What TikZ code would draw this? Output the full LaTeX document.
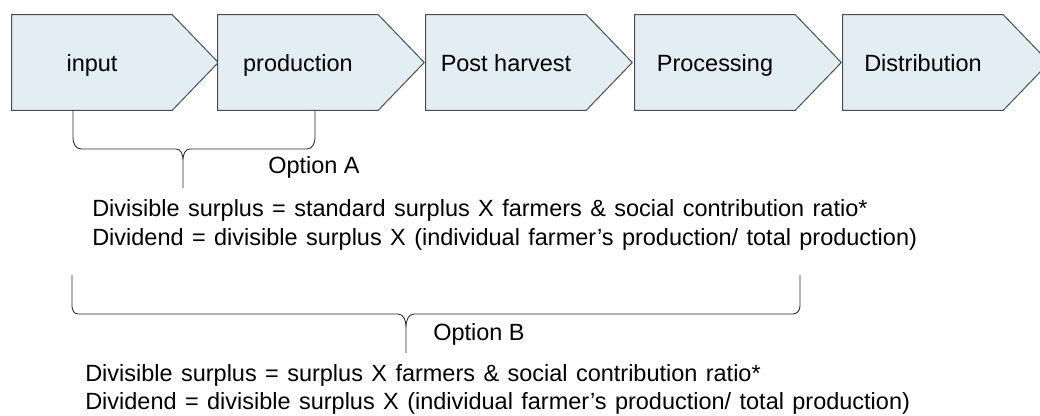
\documentclass[tikz,border=0pt]{standalone}
\usepackage{fontspec}
\setmainfont{Liberation Sans}
\usetikzlibrary{backgrounds}
\definecolor{chevronfill}{RGB}{227,237,244}
\newcommand{\formulaspacing}{\spaceskip=6pt plus 1pt\relax}

\begin{document}
\begin{tikzpicture}[stagenode/.style={rectangle, minimum width=4cm, minimum height=2.375cm, inner sep=0pt, text height=0.46cm, text depth=0cm, font=\fontsize{16.7}{20}\selectfont},
  stageshape/.style={draw=black!70, fill=chevronfill, line width=0.7pt},
  textnode/.style={inner sep=0pt, anchor=base west, font=\fontsize{16.7}{20}\selectfont},
  formulanode/.style={textnode, font=\fontsize{16.7}{20}\selectfont\formulaspacing},
  bracepath/.style={draw=black!85, line width=0.6pt},]
\useasboundingbox (0,0) rectangle (26,-10.4);
% nodes
\node[stagenode] (input) at (2.3,-1.5625) {input};
\node[stagenode] (production) at (7.45,-1.5625) {production};
\node[stagenode] (post_harvest) at (12.65,-1.5625) {Post harvest};
\node[stagenode] (processing) at (17.875,-1.5625) {Processing};
\node[stagenode] (distribution) at (23.075,-1.5625) {Distribution};
\node[textnode] (option_a) at (6.7,-4.333) {Option A};
\node[formulanode] (surplus_a) at (2.3,-5.4175) {Divisible surplus = standard surplus X farmers \& social contribution ratio*};
\node[formulanode] (dividend_a) at (2.3,-6.1375) {Dividend = divisible surplus X (individual farmer’s production/ total production)};
\node[textnode] (option_b) at (10.825,-8.525) {Option B};
\node[formulanode] (surplus_b) at (2.125,-9.5425) {Divisible surplus = surplus X farmers \& social contribution ratio*};
\node[formulanode] (dividend_b) at (2.125,-10.25) {Dividend = divisible surplus X (individual farmer’s production/ total production)};
% chevrons
\begin{scope}[on background layer]
\foreach \stage in {input,production,post_harvest,processing,distribution}
  \draw[stageshape] (\stage.north west) -- (\stage.north east) -- ([xshift=1.15cm]\stage.east) -- (\stage.south east) -- (\stage.south west) -- cycle;
\end{scope}
% braces
\draw[bracepath] ([xshift=-0.475cm]input.south) -- (1.825,-3.45) to[out=-90,in=180] (2.025,-3.725) -- (4.4,-3.725) to[out=0,in=90] (4.575,-4.0) -- (4.575,-4.7)
  (4.575,-4.0) to[out=90,in=180] (4.75,-3.725) -- (7.675,-3.725) to[out=0,in=-90] (7.875,-3.45) -- ([xshift=0.425cm]production.south);
\draw[bracepath] (1.8,-6.875) -- (1.8,-7.65) to[out=-90,in=180] (1.95,-7.85) -- (9.95,-7.85) to[out=0,in=90] (10.15,-8.175) -- (10.15,-8.825)
  (10.15,-8.175) to[out=90,in=180] (10.35,-7.85) -- (19.825,-7.85) to[out=0,in=-90] (20.0,-7.65) -- (20.0,-6.875);
\end{tikzpicture}
\end{document}
